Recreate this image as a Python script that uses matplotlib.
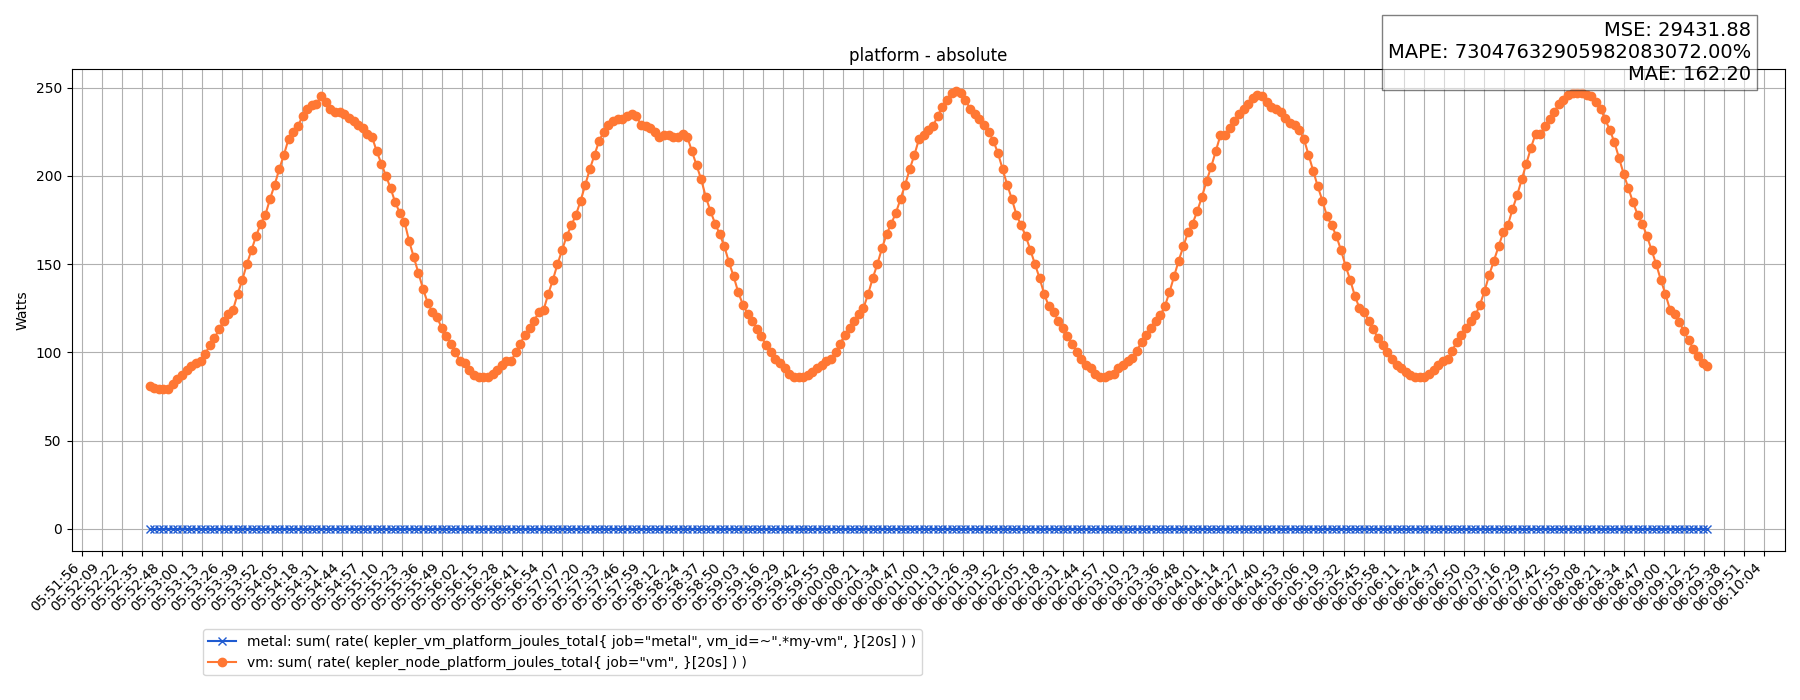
import numpy as np
import pandas as pd
import matplotlib
matplotlib.use('Agg')
import matplotlib.pyplot as plt
import matplotlib.dates as mdates

# samples every 3 s, starting 05:52:40
start_time = '2024-01-01 05:52:40'
step = '3s'

vm = [81, 80, 79, 79, 79, 82, 85, 87, 90, 92, 94, 95, 99, 104, 108, 113, 118, 122, 124, 133,
      141, 150, 158, 166, 173, 178, 187, 195, 204, 212, 221, 225, 228, 234, 238, 240, 241, 245, 242, 238,
      236,
      236, 235, 233, 231, 229, 227, 224, 222, 214, 207, 200, 193, 185, 179, 174, 163, 154, 145, 136, 128,
      123, 120, 114, 109, 105, 100, 95, 94, 90, 87, 86, 86, 86, 88, 90, 93, 95, 95, 100, 105,
      110, 114, 118, 123,
      124, 133, 141, 150, 158, 166, 172, 178, 186, 195, 204, 212, 220, 225, 229, 231, 232, 232, 234, 235,
      234, 229, 228, 227, 225, 222, 223, 223, 222, 222, 224, 222, 214, 206, 198, 188, 180, 173, 167, 160,
      151, 143, 134, 127, 122, 118, 113, 109, 104, 100, 96, 94, 91, 88, 86, 86, 86, 87,
      89, 91, 93, 95, 96, 100, 105, 110, 114, 118, 122, 125, 133, 142, 150, 159, 167, 173, 179, 187,
      195, 204, 212, 221, 223, 226, 228, 234, 239, 243, 247, 248,
      247, 243, 238, 235, 232, 229, 225, 220, 213, 204, 195, 187, 178, 172, 166, 158, 150, 142, 133, 126,
      123, 118, 114, 109, 105, 100, 96, 93, 91, 88, 86, 86, 87,
      88, 91, 93, 95, 97, 101, 106, 110, 114, 118, 121, 126, 134, 143, 152, 160, 168, 173, 180, 188,
      197, 205, 214, 223, 223, 227, 231, 235, 238, 241, 244, 246,
      245, 242, 239, 238, 236, 233, 230, 229, 226, 221, 212, 203, 194, 186, 177, 172, 166, 158, 149, 141,
      132, 125, 123, 118, 113, 108, 104, 100, 96, 93, 91, 89, 87, 86, 86, 86,
      88, 90, 93, 95, 96, 101, 106, 110, 114, 118, 121, 127, 135, 144, 152, 160, 168, 172, 181, 189,
      198, 207, 216, 224, 224, 228, 232, 236, 241, 243, 246, 247, 247, 247,
      246, 245, 242, 238, 232, 226, 219, 210, 201, 193, 185, 178, 173, 166, 158, 150, 141, 133, 124, 122,
      117, 112, 107, 102, 98, 94, 92]
metal = [0.0] * len(vm)

metal_label = 'metal: sum( rate( kepler_vm_platform_joules_total{ job="metal", vm_id=~".*my-vm", }[20s] ) )'
vm_label = 'vm: sum( rate( kepler_node_platform_joules_total{ job="vm", }[20s] ) )'

mse = '29431.88'
mape = '73047632905982083072.00'
mae = '162.20'

times = pd.date_range(start_time, periods=len(vm), freq=step)
ticks = pd.date_range('2024-01-01 05:51:56.180', periods=85, freq='12960ms')

fig, ax = plt.subplots(figsize=(18, 7), dpi=100)
fig.subplots_adjust(left=0.0398, right=0.9917, bottom=0.2133, top=0.901)

ax.plot(times, metal, marker='x', color='#1f5bd1', label=metal_label)
ax.plot(times, vm, marker='o', color='#ff7733', label=vm_label)

ax.set_xticks(mdates.date2num(ticks.to_pydatetime()))
ax.xaxis.set_major_formatter(mdates.DateFormatter('%H:%M:%S'))
plt.setp(ax.get_xticklabels(), rotation=45, ha='right')

ax.grid(True)
ax.set_ylabel('Watts')
ax.set_title('platform - absolute')

ax.legend(loc='upper left', bbox_to_anchor=(0.0766, -0.1627), borderaxespad=0)

txt = 'MSE: ' + mse + '\nMAPE: ' + mape + '%\nMAE: ' + mae
ax.text(0.98, 1.1, txt, transform=ax.transAxes, ha='right', va='top', fontsize=14,
        bbox=dict(boxstyle='square', facecolor='white', alpha=0.5))

fig.savefig('out.png', dpi=100)
